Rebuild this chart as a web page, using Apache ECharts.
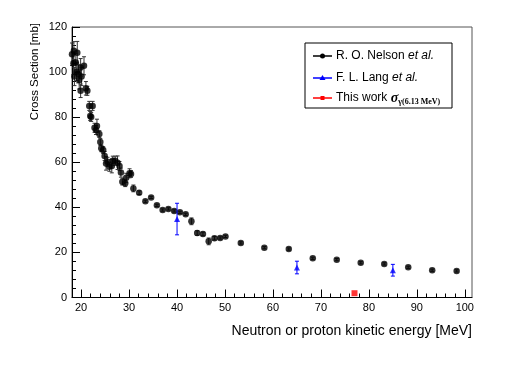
<!DOCTYPE html>
<html>
<head>
<meta charset="utf-8">
<script src="https://cdn.jsdelivr.net/npm/echarts@6/dist/echarts.min.js"></script>
<style>html,body{margin:0;padding:0;background:#fff}#c{width:518px;height:388px}</style>
</head>
<body>
<div id="c"></div>
<script>
// R. O. Nelson et al.
const nelsonX = [18.1,18.4,18.5,18.6,18.9,19.1,19.2,19.4,19.6,19.9,19.9,20.1,20.6,21.0,21.3,21.7,21.9,22.1,22.4,22.8,23.1,23.3,23.8,24.0,24.2,24.6,24.9,25.2,25.5,25.9,26.4,26.6,27.1,27.6,28.0,28.3,28.6,29.2,29.4,30.1,30.4,30.9,32.1,33.4,34.6,35.8,37.0,38.2,39.4,40.6,41.8,43.0,44.2,45.4,46.6,47.8,49.0,50.1,53.3,58.2,63.3,68.3,73.3,78.3,83.2,88.2,93.2,98.3];
const nelsonY = [107.9,103.9,109.5,98.0,104.2,100.2,108.6,99.2,96.5,102.0,91.7,98.0,102.8,92.8,91.7,85.0,80.5,80.1,85.0,75.3,74.3,76.1,72.5,69.0,66.2,65.4,62.8,59.5,60.2,58.0,58.3,60.7,60.7,59.8,58.3,55.4,51.4,50.7,53.1,55.1,54.8,48.4,46.5,42.7,44.4,40.9,38.8,39.3,38.4,37.8,36.9,33.8,28.6,28.2,24.9,26.3,26.4,27.1,24.2,22.1,21.5,17.4,16.8,15.4,14.9,13.4,12.1,11.8];
const nelsonErr = [5,5,4,4,4,4,5,4,4,4,3,4,4,3,2,2,2,2,2,2,2,3,1.5,1.5,1.5,1.5,2,3,2,2,3,2,2,3,2,2,1.5,1.5,2,2,1.5,1.5,0.8,0.5,0.5,0.5,0.5,0.5,0.5,0.5,0.5,1.5,1,0.8,1.5,0.8,0.5,0.5,0.5,0.5,0.5,0.5,0.5,0.5,0.5,0.5,0.5,0.5];
// F. L. Lang et al.
const langX = [40.0,65.0,85.0];
const langY = [34.8,13.3,12.1];
const langErr = [7.0,2.8,2.6];
// This work
const thisX = [77.0];
const thisY = [1.9];
// axis ticks
const xMajor = [20,30,40,50,60,70,80,90,100];
const xMinor = [18,22,24,26,28,32,34,36,38,42,44,46,48,52,54,56,58,62,64,66,68,72,74,76,78,82,84,86,88,92,94,96,98];

const chart = echarts.init(document.getElementById('c'), null, {renderer:'canvas'});
const FONT = 'Liberation Sans, Arial, Helvetica, sans-serif';
const GL = 72, GT = 27, GR = 472, GB = 297.5;

function pts(xs, ys){ return xs.map((x,i)=>[x, ys[i]]); }
function errs(xs, ys, es){ return xs.map((x,i)=>[x, ys[i]-es[i], ys[i]+es[i]]); }
function errRender(color, cap){
  return function(params, api){
    const x = api.value(0);
    const lo = api.coord([x, api.value(1)]);
    const hi = api.coord([x, api.value(2)]);
    return {type:'group', children:[
      {type:'line', shape:{x1:lo[0],y1:lo[1],x2:hi[0],y2:hi[1]}, style:{stroke:color, lineWidth:1}},
      {type:'line', shape:{x1:lo[0]-cap,y1:lo[1],x2:lo[0]+cap,y2:lo[1]}, style:{stroke:color, lineWidth:1}},
      {type:'line', shape:{x1:hi[0]-cap,y1:hi[1],x2:hi[0]+cap,y2:hi[1]}, style:{stroke:color, lineWidth:1}}
    ]};
  };
}

const option = {
  animation:false,
  backgroundColor:'#fff',
  grid:{left:GL, top:GT, right:518-GR, bottom:388-GB, show:true, borderColor:'#555', borderWidth:1, backgroundColor:'transparent'},
  xAxis:[{
    type:'value', min:18.1, max:101.5,
    axisLine:{show:true, onZero:false, lineStyle:{color:'#000', width:1}},
    axisTick:{show:true, inside:true, length:8, customValues:xMajor, lineStyle:{color:'#000'}},
    axisLabel:{show:true, customValues:xMajor, color:'#000', fontFamily:FONT, fontSize:11, margin:5},
    splitLine:{show:false}
  },{
    type:'value', min:18.1, max:101.5, position:'bottom',
    axisLine:{show:false},
    axisTick:{show:true, inside:true, length:4, customValues:xMinor, lineStyle:{color:'#000'}},
    axisLabel:{show:false},
    splitLine:{show:false}
  }],
  yAxis:{
    type:'value', min:0, max:120, interval:20,
    axisLine:{show:true, lineStyle:{color:'#000', width:1}},
    axisTick:{show:true, inside:true, length:8, lineStyle:{color:'#000'}},
    minorTick:{show:true, splitNumber:5, length:4, lineStyle:{color:'#000'}},
    axisLabel:{color:'#000', fontFamily:FONT, fontSize:11, margin:5},
    splitLine:{show:false}
  },
  series:[
    {type:'custom', name:'nelsonErr', renderItem:errRender('#333',2), data:errs(nelsonX,nelsonY,nelsonErr), z:2},
    {type:'scatter', name:'R. O. Nelson et al.', data:pts(nelsonX,nelsonY), symbol:'circle', symbolSize:6.5, itemStyle:{color:'#000'}, z:3},
    {type:'custom', name:'langErr', renderItem:errRender('#0000ff',2), data:errs(langX,langY,langErr), z:4},
    {type:'scatter', name:'F. L. Lang et al.', data:pts(langX,langY), symbol:'triangle', symbolSize:6, itemStyle:{color:'#0000ff'}, z:5},
    {type:'scatter', name:'This work', data:pts(thisX,thisY), symbol:'rect', symbolSize:6, itemStyle:{color:'#ff0000'}, z:6}
  ],
  graphic:[
    {type:'rect', shape:{x:305, y:43, width:147, height:65}, style:{fill:'#fff', stroke:'#000', lineWidth:1}, z:10},
    {type:'line', shape:{x1:313,y1:56,x2:332,y2:56}, style:{stroke:'#000', lineWidth:1.5}, z:11},
    {type:'circle', shape:{cx:322.5, cy:56, r:2.5}, style:{fill:'#000'}, z:11},
    {type:'text', x:336, y:56, style:{text:'R. O. Nelson {i|et al.}', fill:'#000', font:'12px '+FONT, verticalAlign:'middle', rich:{i:{fontStyle:'italic', fontSize:12, fontFamily:FONT}}}, z:11},
    {type:'line', shape:{x1:313,y1:78,x2:332,y2:78}, style:{stroke:'#0000ff', lineWidth:1.5}, z:11},
    {type:'polygon', shape:{points:[[322.5,75],[325.5,80],[319.5,80]]}, style:{fill:'#0000ff'}, z:11},
    {type:'text', x:336, y:78, style:{text:'F. L. Lang {i|et al.}', fill:'#000', font:'12px '+FONT, verticalAlign:'middle', rich:{i:{fontStyle:'italic', fontSize:12, fontFamily:FONT}}}, z:11},
    {type:'line', shape:{x1:313,y1:98,x2:332,y2:98}, style:{stroke:'#ff0000', lineWidth:1.5}, z:11},
    {type:'rect', shape:{x:320.5, y:96, width:4, height:4}, style:{fill:'#ff0000'}, z:11},
    {type:'text', x:336, y:98, style:{text:'This work {s|σ}{g|γ(6.13 MeV)}', fill:'#000', font:'12px '+FONT, verticalAlign:'middle', rich:{
      s:{fontFamily:'Liberation Serif, DejaVu Serif, serif', fontStyle:'italic', fontWeight:'bold', fontSize:14},
      g:{fontFamily:'Liberation Serif, DejaVu Serif, serif', fontWeight:'bold', fontSize:8, padding:[7,0,0,0]}
    }}, z:11},
    {type:'text', x:35, y:23, rotation:Math.PI/2, style:{text:'Cross Section [mb]', fill:'#000', font:'11.5px '+FONT, align:'right', verticalAlign:'middle'}},
    {type:'text', x:472, y:331, style:{text:'Neutron or proton kinetic energy [MeV]', fill:'#000', font:'14px '+FONT, align:'right', verticalAlign:'middle'}}
  ]
};
chart.setOption(option);
</script>
</body>
</html>
